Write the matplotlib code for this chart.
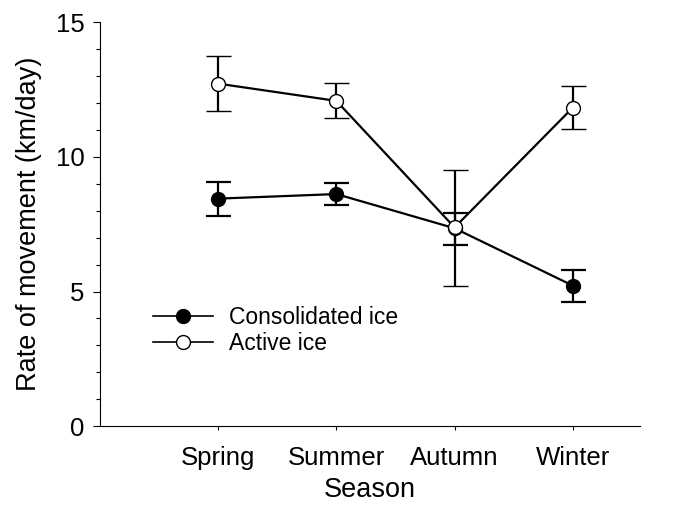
import numpy as np
from matplotlib import pyplot as plt
from matplotlib.ticker import MultipleLocator
from matplotlib.lines import Line2D

seasons = ['Spring', 'Summer', 'Autumn', 'Winter']

consolidated = [8.45, 8.62, 7.35, 5.22]
consolidated_lo = [7.80, 8.21, 6.72, 4.62]
consolidated_hi = [9.07, 9.03, 7.93, 5.79]

active = [12.72, 12.08, 7.38, 11.83]
active_lo = [11.70, 11.43, 5.20, 11.03]
active_hi = [13.74, 12.73, 9.53, 12.63]


def errs(mid, lo, hi):
    mid = np.array(mid)
    return [mid - np.array(lo), np.array(hi) - mid]


plt.rcParams['font.family'] = ['Liberation Sans', 'DejaVu Sans']

fig = plt.figure(figsize=(6.84, 5.05), dpi=100)
ax = fig.add_axes([0.146, 0.156, 0.79, 0.80])

x = np.arange(1, len(seasons) + 1)

ax.errorbar(x, consolidated, yerr=errs(consolidated, consolidated_lo, consolidated_hi),
            color='black', marker='o', markersize=10, markerfacecolor='black',
            linewidth=1.6, elinewidth=1.6, capsize=9, capthick=1.6, zorder=3)
ax.errorbar(x, active, yerr=errs(active, active_lo, active_hi),
            color='black', marker='o', markersize=10, markerfacecolor='white',
            markeredgewidth=1.0, linewidth=1.6, elinewidth=1.6, capsize=9, capthick=1.6,
            zorder=4)

ax.set_xlim(0, 4.57)
ax.set_ylim(0, 15)
ax.set_xticks(x)
ax.set_xticklabels(seasons)
ax.yaxis.set_major_locator(MultipleLocator(5))
ax.yaxis.set_minor_locator(MultipleLocator(1))
ax.tick_params(axis='both', labelsize=18.5, width=0.8)
ax.tick_params(axis='y', which='major', length=5, pad=6)
ax.tick_params(axis='y', which='minor', length=3, width=0.8)
ax.tick_params(axis='x', length=3, pad=11)

ax.spines['right'].set_visible(False)
ax.spines['top'].set_visible(False)
ax.spines['left'].set_linewidth(0.8)
ax.spines['bottom'].set_linewidth(0.8)

ax.set_xlabel('Season', fontsize=19.5, labelpad=5)
ax.set_ylabel('Rate of movement (km/day)', fontsize=19.5, labelpad=10)

handles = [
    Line2D([], [], color='black', marker='o', markersize=10, markerfacecolor='black', linewidth=1.2),
    Line2D([], [], color='black', marker='o', markersize=10, markerfacecolor='white',
           markeredgewidth=1.0, linewidth=1.2),
]
ax.legend(handles, ['Consolidated ice', 'Active ice'], loc='lower left',
          bbox_to_anchor=(0.077, 0.148), frameon=False, fontsize=16.5,
          handlelength=2.6, handletextpad=0.7, labelspacing=0.15, borderpad=0)

fig.savefig('out.png', dpi=100)
